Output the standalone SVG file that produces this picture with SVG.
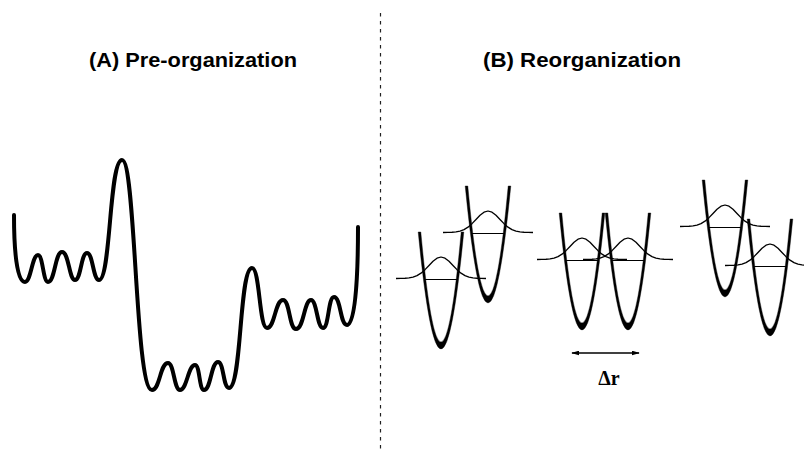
<svg xmlns="http://www.w3.org/2000/svg" xmlns:xlink="http://www.w3.org/1999/xlink" width="804" height="449" viewBox="0 0 804 449">
  <style>
    .title { font-family: "Liberation Sans", Arial, Helvetica, sans-serif; font-weight: bold; font-size: 19.5px; fill: #000; }
    .label { font-family: "Liberation Serif", "Times New Roman", serif; font-weight: bold; font-size: 20px; fill: #000; }
    .landscape { fill: none; stroke: #000; stroke-width: 4; stroke-linecap: round; stroke-linejoin: round; }
    .divider { fill: none; stroke: #222; stroke-width: 1.2; stroke-dasharray: 3.5 4.5; }
    .wave { fill: none; stroke: #000; stroke-width: 1.3; stroke-linejoin: round; }
    .level { fill: none; stroke: #000; stroke-width: 1; }
    .wall { fill: #000; stroke: #000; stroke-width: 0.4; }
    .arrow { fill: none; stroke: #000; stroke-width: 1.3; }
  </style>
  <defs>
    <!-- harmonic well: top of the arms at y=0, centre at x=0, with its ground-state level and wavefunction -->
    <g id="well">
      <polyline class="wave" points="-45,46.5 -40,46.42 -36,46.26 -32,45.89 -28,45.09 -24,43.59 -20,41.14 -16,37.66 -12,33.46 -8,29.28 -4,26.16 0,25 4,26.16 8,29.28 12,33.46 16,37.66 20,41.14 24,43.59 28,45.09 32,45.89 36,46.26 40,46.42 45,46.5"/>
      <line class="level" x1="-16.5" y1="47.5" x2="16.5" y2="47.5"/>
      <path class="wall" d="M-22.8,0 Q0,234 22.8,0 L20.2,0 Q0,220 -20.2,0 Z"/>
    </g>
    <marker id="head" viewBox="0 0 10 6" refX="9" refY="3" markerWidth="8" markerHeight="5" markerUnits="userSpaceOnUse" orient="auto-start-reverse">
      <path d="M0,0 L10,3 L0,6 Z" fill="#000"/>
    </marker>
  </defs>

  <!-- panel titles -->
  <g id="title-a"><text class="title" x="193" y="67" text-anchor="middle" textLength="208" lengthAdjust="spacingAndGlyphs">(A) Pre-organization</text></g>
  <g id="title-b"><text class="title" x="582" y="67" text-anchor="middle" textLength="198" lengthAdjust="spacingAndGlyphs">(B) Reorganization</text></g>

  <!-- panel separator -->
  <line class="divider" x1="380.5" y1="13" x2="380.5" y2="449"/>

  <!-- (A) rugged energy landscape -->
  <g id="landscape">
    <path class="landscape" d="M14,215 C14,252 17,282 25,282
      C31,282 32,255 38,255 C43,255 43,282 48,282
      C55,282 55,252 62,252 C69,252 69,280 75,280
      C81,280 81,253 87,253 C93,253 93,280 99,280
      C111,280 109,160 122,160 C136,160 135,390 152,390
      C160,390 160,363 168,363 C174,363 174,390 180,390
      C187,390 188,365 195,365 C200,365 199,390 204,390
      C211,390 211,362 218,362 C224,362 223,388 229,388
      C242,388 239,268 252,268 C260,268 259,328 267,328
      C275,328 275,300 283,300 C290,300 289,329 296,329
      C304,329 304,300 311,300 C317,300 317,328 323,328
      C329,328 328,297 334,297 C341,297 340,325 347,325
      C354,325 358,290 358,227"/>
  </g>

  <!-- (B) pairs of potential wells -->
  <g id="well-1"><use xlink:href="#well" href="#well" transform="translate(441,232)"/></g>
  <g id="well-2"><use xlink:href="#well" href="#well" transform="translate(488,186)"/></g>
  <g id="well-3"><use xlink:href="#well" href="#well" transform="translate(582,213)"/></g>
  <g id="well-4"><use xlink:href="#well" href="#well" transform="translate(628,213)"/></g>
  <g id="well-5"><use xlink:href="#well" href="#well" transform="translate(725,180)"/></g>
  <g id="well-6"><use xlink:href="#well" href="#well" transform="translate(770,219)"/></g>

  <!-- displacement between the symmetric pair -->
  <g id="connectors">
    <line class="arrow" x1="572" y1="353" x2="639" y2="353" marker-start="url(#head)" marker-end="url(#head)"/>
  </g>
  <g id="delta-r"><text class="label" x="609" y="385" text-anchor="middle">Δr</text></g>
</svg>
